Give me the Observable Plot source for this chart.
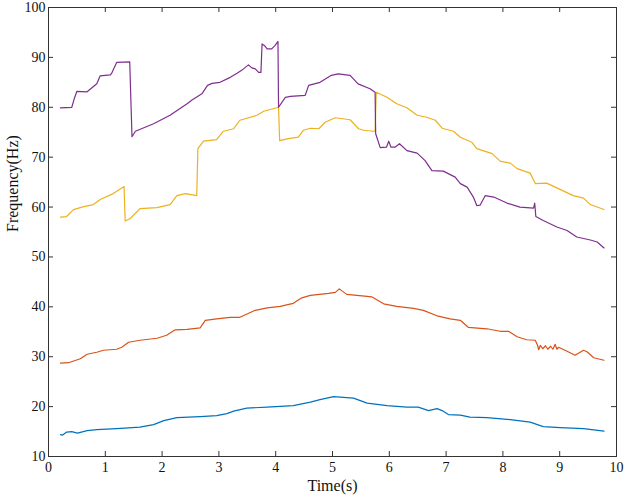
<!DOCTYPE html>
<html>
<head>
<meta charset="utf-8">
<script src="https://cdn.jsdelivr.net/npm/d3@7"></script>
<script src="https://cdn.jsdelivr.net/npm/@observablehq/plot@0.6"></script>
<style>
  html, body { margin: 0; padding: 0; background: #fff; }
  #chart { width: 625px; height: 501px; }
</style>
</head>
<body>
<div id="chart"></div>
<script>
// ---- data (time in s, frequency in Hz) ----
const blue = [
  [0.21,14.4],[0.25,14.3],[0.32,14.9],[0.41,15.0],[0.51,14.7],[0.68,15.2],[0.85,15.4],[1.20,15.6],
  [1.61,15.9],[1.85,16.4],[2.03,17.2],[2.26,17.8],[2.67,18.0],[2.96,18.2],[3.14,18.6],[3.26,19.1],
  [3.49,19.7],[3.85,19.9],[4.31,20.2],[4.61,20.9],[4.78,21.4],[5.02,22.0],[5.37,21.7],[5.61,20.7],
  [5.96,20.2],[6.31,19.9],[6.51,19.9],[6.69,19.2],[6.84,19.6],[6.93,19.2],[7.04,18.4],[7.25,18.3],
  [7.42,17.9],[7.72,17.8],[8.13,17.4],[8.48,16.9],[8.71,16.0],[9.01,15.8],[9.42,15.6],[9.78,15.1]
];
const orange = [
  [0.21,28.7],[0.35,28.8],[0.56,29.6],[0.68,30.5],[0.85,30.9],[0.97,31.3],[1.20,31.5],[1.29,31.9],
  [1.41,32.9],[1.61,33.3],[1.91,33.7],[2.08,34.3],[2.23,35.4],[2.44,35.5],[2.67,35.8],[2.76,37.3],
  [2.96,37.6],[3.20,37.9],[3.37,37.9],[3.64,39.3],[3.85,39.8],[4.08,40.1],[4.31,40.7],[4.46,41.8],
  [4.61,42.3],[4.93,42.7],[5.05,42.9],[5.12,43.6],[5.25,42.5],[5.61,42.1],[5.69,42.0],[5.90,40.6],
  [6.13,40.1],[6.43,39.7],[6.60,39.3],[6.84,38.2],[7.07,37.6],[7.25,37.3],[7.39,35.9],[7.72,35.6],
  [7.95,35.1],[8.10,35.1],[8.25,34.0],[8.42,33.4],[8.57,33.3],[8.61,32.3],[8.63,31.4],[8.66,32.3],
  [8.70,31.6],[8.75,32.2],[8.79,31.5],[8.84,32.1],[8.88,31.5],[8.92,32.5],[8.95,31.5],[8.98,31.9],
  [9.13,31.1],[9.27,30.3],[9.42,31.3],[9.48,31.0],[9.60,29.8],[9.78,29.3]
];
const yellow = [
  [0.21,58.0],[0.32,58.1],[0.44,59.5],[0.62,60.1],[0.79,60.5],[0.91,61.5],[1.14,62.7],[1.33,64.1],
  [1.35,57.2],[1.44,57.7],[1.61,59.7],[1.91,59.9],[2.14,60.5],[2.26,62.3],[2.41,62.7],[2.61,62.3],
  [2.63,71.7],[2.73,73.2],[2.96,73.5],[3.08,75.2],[3.26,75.7],[3.37,77.4],[3.67,78.4],[3.79,79.2],
  [4.05,80.0],[4.07,73.3],[4.22,73.7],[4.40,74.0],[4.49,75.4],[4.61,75.8],[4.76,75.7],[4.87,77.0],
  [5.05,77.9],[5.31,77.5],[5.46,75.7],[5.55,75.4],[5.72,75.2],[5.75,75.2],[5.77,83.0],[5.96,82.0],
  [6.13,80.7],[6.31,79.9],[6.49,78.4],[6.66,78.0],[6.81,77.4],[6.93,75.8],[7.13,75.2],[7.25,74.0],
  [7.45,73.0],[7.54,71.7],[7.81,70.7],[7.95,69.2],[8.13,68.8],[8.25,67.7],[8.48,66.8],[8.57,64.7],
  [8.77,64.8],[9.07,63.2],[9.24,62.3],[9.42,61.8],[9.54,60.5],[9.78,59.5]
];
const purple = [
  [0.21,79.9],[0.41,80.0],[0.45,81.6],[0.50,83.2],[0.68,83.1],[0.85,84.7],[0.91,86.3],[1.09,86.5],
  [1.12,87.0],[1.20,89.0],[1.43,89.1],[1.47,74.1],[1.53,75.2],[1.85,76.7],[2.14,78.4],[2.44,80.7],
  [2.52,81.4],[2.70,82.7],[2.80,84.4],[2.88,84.8],[3.02,85.0],[3.20,86.0],[3.32,86.8],[3.40,87.4],
  [3.52,88.5],[3.58,87.9],[3.64,87.7],[3.70,87.0],[3.74,87.0],[3.76,92.7],[3.80,92.4],[3.85,91.7],
  [3.93,91.7],[3.99,92.4],[4.04,93.2],[4.05,80.0],[4.17,82.0],[4.26,82.2],[4.52,82.4],[4.58,84.4],
  [4.78,85.0],[4.98,86.4],[5.10,86.7],[5.31,86.4],[5.45,84.7],[5.66,83.7],[5.75,83.0],[5.76,74.7],
  [5.84,71.9],[5.95,72.0],[5.99,73.2],[6.03,72.0],[6.10,72.0],[6.18,72.7],[6.31,71.3],[6.49,70.8],
  [6.63,69.3],[6.75,67.3],[6.95,67.2],[7.16,66.0],[7.25,64.7],[7.37,64.0],[7.48,62.0],[7.54,60.3],
  [7.60,60.4],[7.69,62.3],[7.84,62.0],[8.07,60.8],[8.30,60.0],[8.54,59.8],[8.56,60.8],[8.58,58.1],
  [8.71,57.3],[8.95,56.0],[9.13,55.3],[9.30,54.0],[9.54,53.4],[9.66,53.0],[9.78,51.8]
];
const seriesNames = ["S1", "S2", "S3", "S4"];
const seriesColors = ["#0072BD", "#D95319", "#EDB120", "#7E2F8E"];
const xTicks = [0,1,2,3,4,5,6,7,8,9,10];
const yTicks = [10,20,30,40,50,60,70,80,90,100];
const xLabel = "Time(s)";
const yLabel = "Frequency(Hz)";

const seriesData = [blue, orange, yellow, purple];
const rows = seriesData.flatMap((arr, i) => arr.map(([t, f]) => ({t, f, s: seriesNames[i]})));

const W = 625, H = 501;
const mL = 48, mR = 9, mT = 7, mB = 45;
const plotW = W - mL - mR, plotH = H - mT - mB;
const tickLen = 5;
const ink = "#111";

const chart = Plot.plot({
  width: W, height: H,
  marginLeft: mL, marginRight: mR, marginTop: mT, marginBottom: mB,
  style: {fontFamily: "'Liberation Serif', 'Times New Roman', serif", fontSize: "14px", color: ink, background: "#fff"},
  x: {domain: [0, 10], ticks: xTicks, label: null},
  y: {domain: [10, 100], ticks: yTicks, label: null},
  color: {type: "ordinal", domain: seriesNames, range: seriesColors},
  marks: [
    Plot.frame({stroke: "#333", strokeWidth: 1}),
    // inward ticks on all four sides
    Plot.tickX(xTicks, {x: d => d, insetTop: plotH - tickLen, stroke: "#333"}),
    Plot.tickX(xTicks, {x: d => d, insetBottom: plotH - tickLen, stroke: "#333"}),
    Plot.tickY(yTicks, {y: d => d, insetRight: plotW - tickLen, stroke: "#333"}),
    Plot.tickY(yTicks, {y: d => d, insetLeft: plotW - tickLen, stroke: "#333"}),
    Plot.axisX({ticks: xTicks, tickSize: 0, tickPadding: 6, label: null, fontSize: 14}),
    Plot.axisY({ticks: yTicks, tickSize: 0, tickPadding: 3, label: null, fontSize: 14}),
    Plot.line(rows, {x: "t", y: "f", z: "s", stroke: "s", strokeWidth: 1.2, curve: "linear"}),
    Plot.text([xLabel], {text: d => d, frameAnchor: "bottom", dy: 34, fontSize: 16, fill: ink}),
    Plot.text([yLabel], {text: d => d, frameAnchor: "left", dx: -36, rotate: -90, fontSize: 16, fill: ink})
  ]
});
document.getElementById("chart").appendChild(chart);
</script>
</body>
</html>
